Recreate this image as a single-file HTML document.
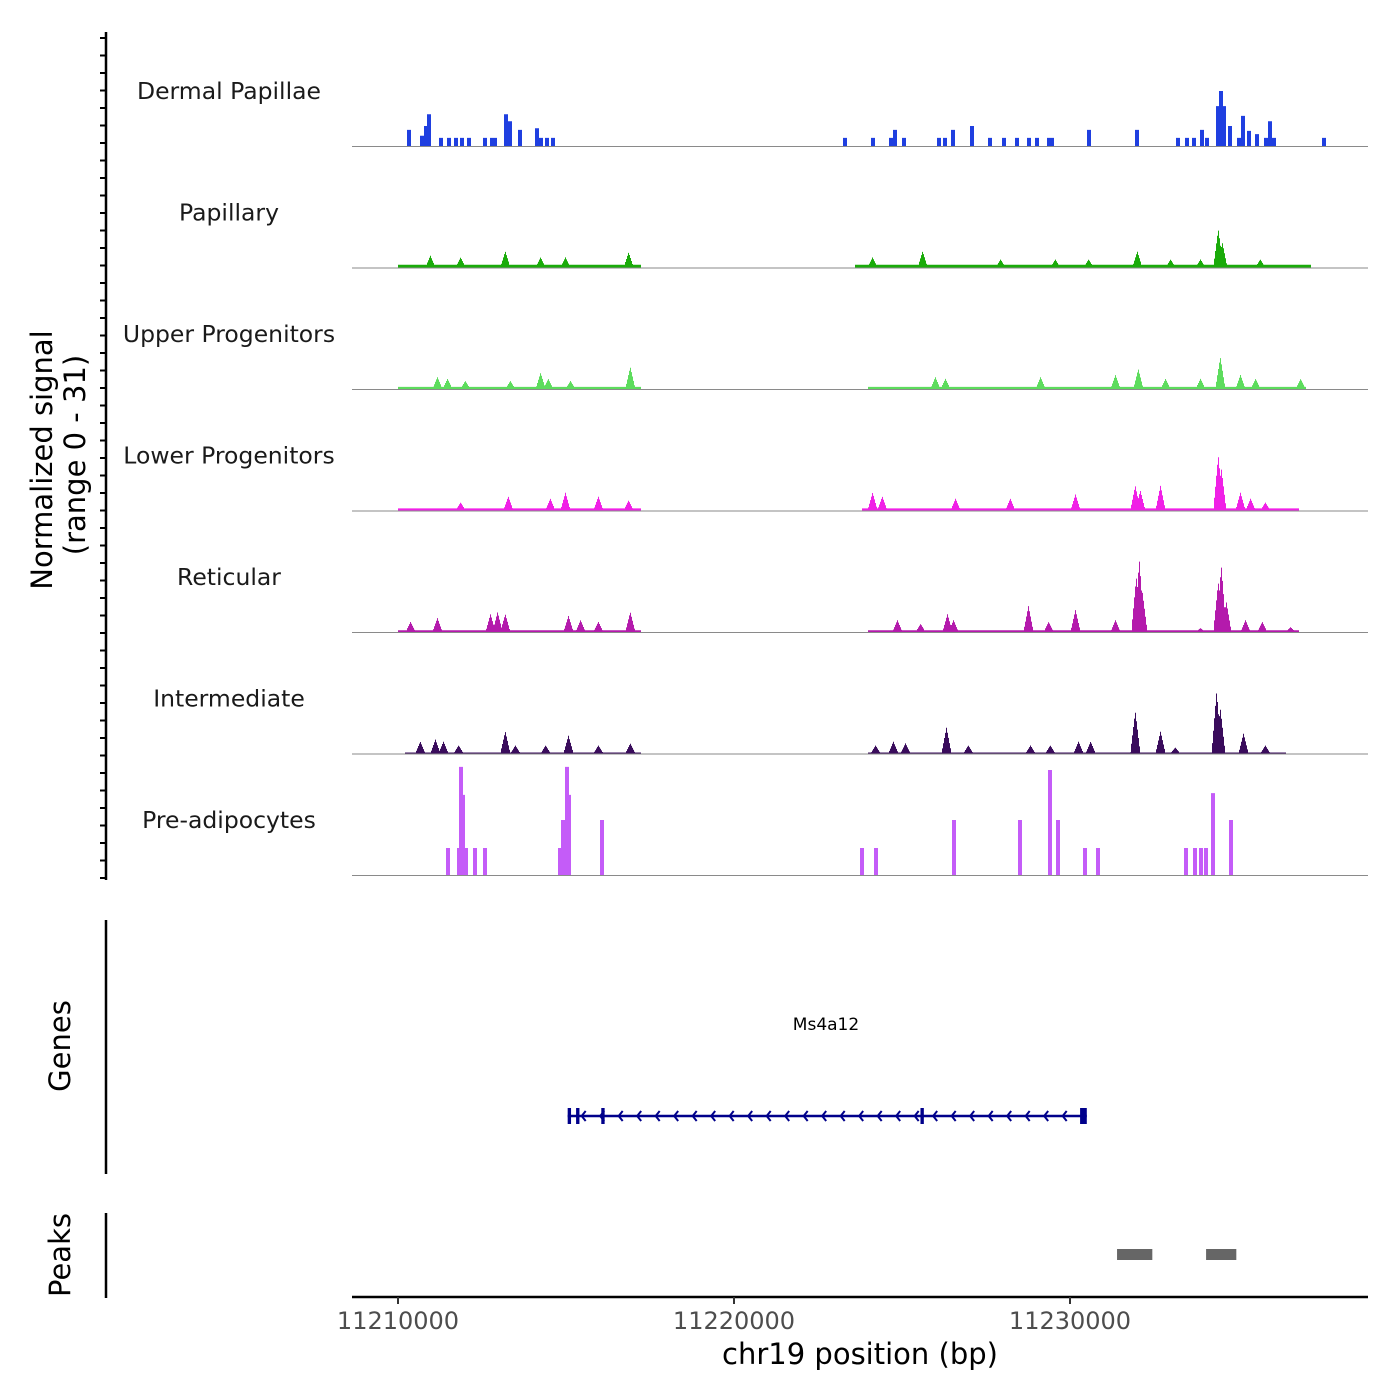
<!DOCTYPE html>
<html><head><meta charset="utf-8"><style>
body{margin:0;background:#fff}
svg{display:block;font-family:"DejaVu Sans","Liberation Sans",sans-serif}
</style></head><body>
<svg id="chart" width="1400" height="1400" viewBox="0 0 1400 1400" xmlns="http://www.w3.org/2000/svg">
<g id="tracks"></g>
<g id="axes"></g>
</svg>
<script>
const trackNames=["Dermal Papillae","Papillary","Upper Progenitors","Lower Progenitors","Reticular","Intermediate","Pre-adipocytes"];
const trackColors=["#1f3fe0","#1aab0a","#5ddc5d","#f020e6","#b41aac","#3a0c5c","#c45cf8"];
// peak positions in kb offset from 11210000, heights in normalized signal
const dpPos=[0.3,0.71,0.83,0.92,1.25,1.49,1.70,1.90,2.11,2.56,2.77,2.86,3.21,3.33,3.63,4.11,4.23,4.43,4.61,13.30,14.11,14.67,14.79,15.03,16.10,16.25,16.49,17.08,17.59,18.01,18.42,18.75,18.99,19.35,19.46,20.54,21.99,23.21,23.48,23.69,23.90,24.05,24.40,24.49,24.58,24.76,25.00,25.12,25.30,25.54,25.83,25.95,26.07,27.53];
const dpVal=[4.6,2.9,5.7,9.1,2.3,2.3,2.3,2.3,2.3,2.3,2.3,2.3,9.1,7.1,4.6,5.1,2.3,2.3,2.3,2.3,2.3,2.3,4.6,2.3,2.3,2.3,4.6,5.7,2.3,2.3,2.3,2.3,2.3,2.3,2.3,4.6,4.6,2.3,2.3,2.3,4.6,2.3,11.4,15.7,11.4,5.7,2.3,8.6,4.3,3.4,2.3,7.1,2.3,2.3];
const papPos=[0.95,1.85,3.18,4.23,4.97,6.85,14.11,15.60,17.92,19.55,20.54,21.99,22.98,23.87,24.40,24.52,25.65];
const papVal=[3.4,2.9,4.6,2.9,2.9,4.3,2.9,4.6,2.3,2.3,2.3,4.6,2.3,2.3,10.9,7.1,2.3];
const upPos=[1.16,1.46,1.99,3.33,4.23,4.46,5.12,6.90,15.98,16.28,19.11,21.34,22.02,22.83,23.87,24.46,25.06,25.51,26.85];
const upVal=[3.4,2.9,2.3,2.3,4.6,2.9,2.3,6.3,3.4,2.9,3.4,4.0,5.7,2.9,2.9,9.1,4.0,2.9,2.9];
const lpPos=[1.85,3.27,4.52,4.97,5.95,6.85,14.11,14.40,16.58,18.21,20.15,21.93,22.08,22.68,24.40,24.49,25.06,25.36,25.80];
const lpVal=[2.3,4.0,3.4,5.1,4.0,2.9,5.1,4.0,3.4,3.4,4.6,7.1,5.7,7.1,15.7,12.0,5.1,3.4,2.3];
const retPos=[0.36,1.16,2.74,2.95,3.18,5.06,5.42,5.95,6.90,14.85,15.54,16.34,16.52,18.75,19.35,20.15,21.34,21.96,22.05,22.14,23.87,24.40,24.49,24.64,25.21,25.71,26.55];
const retVal=[2.9,4.0,5.1,5.7,5.1,4.6,3.4,2.9,5.7,3.4,2.3,5.1,3.4,7.4,2.9,6.3,3.4,15.7,20.6,11.4,1.1,14.3,18.9,8.6,3.4,2.9,1.4];
const intPos=[0.65,1.10,1.34,1.79,3.18,3.48,4.38,5.06,5.95,6.90,14.20,14.73,15.09,16.31,16.96,18.81,19.40,20.24,20.60,21.93,22.68,23.12,24.35,24.46,25.15,25.80];
const intVal=[3.4,4.0,3.4,2.3,6.3,2.3,2.3,5.1,2.3,2.9,2.3,3.4,2.9,7.4,2.3,2.3,2.3,3.4,3.4,12.0,6.3,1.7,17.7,12.9,5.7,2.3];
const prePos=[1.46,1.79,1.85,1.93,2.02,2.29,2.56,4.82,4.91,5.00,5.06,6.07,13.78,14.20,16.52,18.51,19.38,19.64,20.42,20.83,23.45,23.72,23.87,24.02,24.23,24.79];
const preVal=[7.7,7.7,30.9,22.9,7.7,7.7,7.7,7.7,15.7,30.9,22.9,15.7,7.7,7.7,15.7,15.7,30.0,15.7,7.7,7.7,7.7,7.7,7.7,7.7,23.4,15.7];
// low background signal regions [startKb], [endKb], level
const regStart=[[],[0,13.6],[0,14.0],[0,13.8],[0,14.0],[0.2,14.0],[]];
const regEnd=[[],[7.2,27.14],[7.2,27.0],[7.2,26.8],[7.2,26.8],[7.2,26.4],[]];
const regLevel=[0,0.8,0.6,0.6,0.5,0.3,0];
const allPos=[dpPos,papPos,upPos,lpPos,retPos,intPos,prePos];
const allVal=[dpVal,papVal,upVal,lpVal,retVal,intVal,preVal];
const xTicks=[11210000,11220000,11230000];
const peakStart=[11231400,11234050];
const peakEnd=[11232450,11234950];
const exonStart=[11215050,11215300,11216050,11225550,11230300];
const exonEnd=[11215150,11215400,11216150,11225650,11230500];
const geneStart=11215050, geneEnd=11230500;

const NS="http://www.w3.org/2000/svg";
const X0=352,X1=1368;
const PXKB=33.6;
const xs=bp=>398+(bp-11210000)/1000*PXKB;
const xk=kb=>398+kb*PXKB;
const YMAX=31, TH=108.5;
const baseY=i=>146+i*121.5;
const ys=(i,v)=>baseY(i)-v/YMAX*TH;
function el(t,a,p){const e=document.createElementNS(NS,t);for(const k in a)e.setAttribute(k,a[k]);p.appendChild(e);return e;}
const tracks=document.getElementById('tracks'),axes=document.getElementById('axes');

for(let i=0;i<7;i++){
  const g=el('g',{},tracks);
  
  
  const lab=el('text',{x:229,y:baseY(i)-47,'text-anchor':'middle','font-size':23.5,fill:'#1a1a1a'},g);
  lab.textContent=trackNames[i];
  
  
  const env=new Array(X1-X0+2).fill(0);
  for(let r=0;r<regStart[i].length;r++){
    const a=Math.round(xk(regStart[i][r])),b=Math.round(xk(regEnd[i][r]));
    for(let x=a;x<=b;x++)env[x-X0]=Math.max(env[x-X0],regLevel[i]);
  }
  const pos=allPos[i],val=allVal[i];
  for(let p=0;p<pos.length;p++){
    const cx=xk(pos[p]);
    if(i===0||i===6){
      for(let x=Math.round(cx-1.5);x<=Math.round(cx+1.5);x++)if(x>=X0&&x<=X1)env[x-X0]=Math.max(env[x-X0],val[p]);
    }else{
      const hw=4;
      for(let x=Math.floor(cx-hw);x<=Math.ceil(cx+hw);x++){
        if(x<X0||x>X1)continue;
        const v=val[p]*Math.max(0,1-Math.abs(x-cx)/hw*0.8);
        env[x-X0]=Math.max(env[x-X0],v);
      }
    }
  }
  let d='M'+X0+','+baseY(i);
  for(let x=X0;x<=X1;x++){d+='L'+x+','+ys(i,env[x-X0]).toFixed(1)+'L'+(x+1)+','+ys(i,env[x-X0]).toFixed(1);}
  d+='L'+(X1+1)+','+baseY(i)+'Z';
  const path=el('path',{d:d,fill:trackColors[i]},g);
  
  
  const bl=el('line',{x1:X0,x2:X1,y1:baseY(i)+0.5,y2:baseY(i)+0.5,stroke:'#8a8a8a','stroke-width':1},g);
  
  
}
const ya=el('line',{x1:106,x2:106,y1:32,y2:880,stroke:'#000','stroke-width':2.5},axes);


for(let y=38;y<=878;y+=17.5){
  const t=el('line',{x1:100,x2:106,y1:y,y2:y,stroke:'#000','stroke-width':2},axes);
  
  
}
function rotText(txt,x,y,size,name){
  const t=el('text',{x:x,y:y,'text-anchor':'middle','font-size':size,fill:'#000',transform:'rotate(-90 '+x+' '+y+')'},axes);
  t.textContent=txt;
  
  
}
rotText('Normalized signal',52,460,29,'y-axis-title');
rotText('(range 0 - 31)',85,455,29,'y-axis-range');
rotText('Genes',70,1046,29,'genes-axis-title');
rotText('Peaks',70,1255,29,'peaks-axis-title');
const ga=el('line',{x1:106,x2:106,y1:920,y2:1174,stroke:'#000','stroke-width':2.5},axes);


const pa=el('line',{x1:106,x2:106,y1:1213,y2:1298,stroke:'#000','stroke-width':2.5},axes);


const gl=el('text',{x:826,y:1030,'text-anchor':'middle','font-size':17,fill:'#000'},axes);
gl.textContent='Ms4a12';


const gline=el('line',{x1:xs(geneStart),x2:xs(geneEnd),y1:1116,y2:1116,stroke:'#00008b','stroke-width':2.5},axes);


for(let x=xs(geneStart)+14;x<xs(geneEnd)-8;x+=18.5){
  const a=el('path',{d:'M'+(x+4)+',1111L'+x+',1116L'+(x+4)+',1121',fill:'none',stroke:'#00008b','stroke-width':2},axes);
  
  
}
for(let e=0;e<exonStart.length;e++){
  const r=el('rect',{x:xs(exonStart[e]),y:1108,width:Math.max(3,xs(exonEnd[e])-xs(exonStart[e])),height:16,fill:'#00008b'},axes);
  
  
}
for(let p=0;p<peakStart.length;p++){
  const r=el('rect',{x:xs(peakStart[p]),y:1249,width:xs(peakEnd[p])-xs(peakStart[p]),height:11,fill:'#666'},axes);
  
  
}
const xa=el('line',{x1:X0,x2:X1,y1:1297,y2:1297,stroke:'#000','stroke-width':2.5},axes);


for(const t of xTicks){
  const tk=el('line',{x1:xs(t),x2:xs(t),y1:1297,y2:1304,stroke:'#333','stroke-width':2},axes);
  
  
  const tl=el('text',{x:xs(t),y:1329,'text-anchor':'middle','font-size':24,fill:'#4d4d4d'},axes);
  tl.textContent=String(t);
  
  
}
const xt=el('text',{x:860,y:1364,'text-anchor':'middle','font-size':29,fill:'#000'},axes);
xt.textContent='chr19 position (bp)';


</script>
</body></html>
